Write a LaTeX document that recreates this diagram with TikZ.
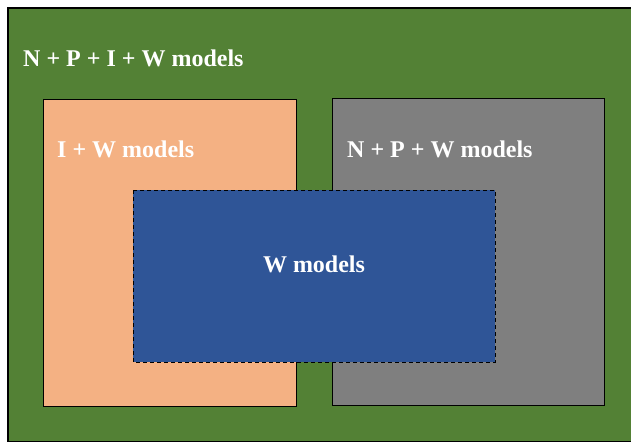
\documentclass[tikz,border=0pt]{standalone}
\usepackage{fontspec}
\setmainfont{Liberation Serif}
\usepackage{xcolor}
\usepackage{tikz}
\usetikzlibrary{positioning}
\definecolor{mygreen}{HTML}{538135}
\definecolor{mypeach}{HTML}{F4B183}
\definecolor{mygray}{HTML}{7F7F7F}
\definecolor{myblue}{HTML}{2F5597}
\tikzstyle{region} = [draw=black, line width=1pt]
\tikzstyle{label} = [anchor=base west, inner sep=0pt, text=white, font=\fontsize{24}{27}\selectfont\bfseries]

\begin{document}
\begin{tikzpicture}[x=1pt, y=-1pt]
    \clip (0,0) rectangle (631,442);
    \draw[region, fill=mygreen, line width=1.5pt] (8,8) rectangle (660,441.5);
    \draw[region, fill=mypeach] (43,99) rectangle (296,406);
    \draw[region, fill=mygray] (332,98) rectangle (604,405);
    \draw[region, fill=myblue, dash pattern=on 4pt off 3pt] (133,190) rectangle (495,362);
    \node[label] (all) at (23,66) {N + P + I + W models};
    \node[label] (iw) at (57,157) {I + W models};
    \node[label] (npw) at (347,157) {N + P + W models};
    \node[label, anchor=base] (w) at (314,272) {W models};
\end{tikzpicture}
\end{document}
